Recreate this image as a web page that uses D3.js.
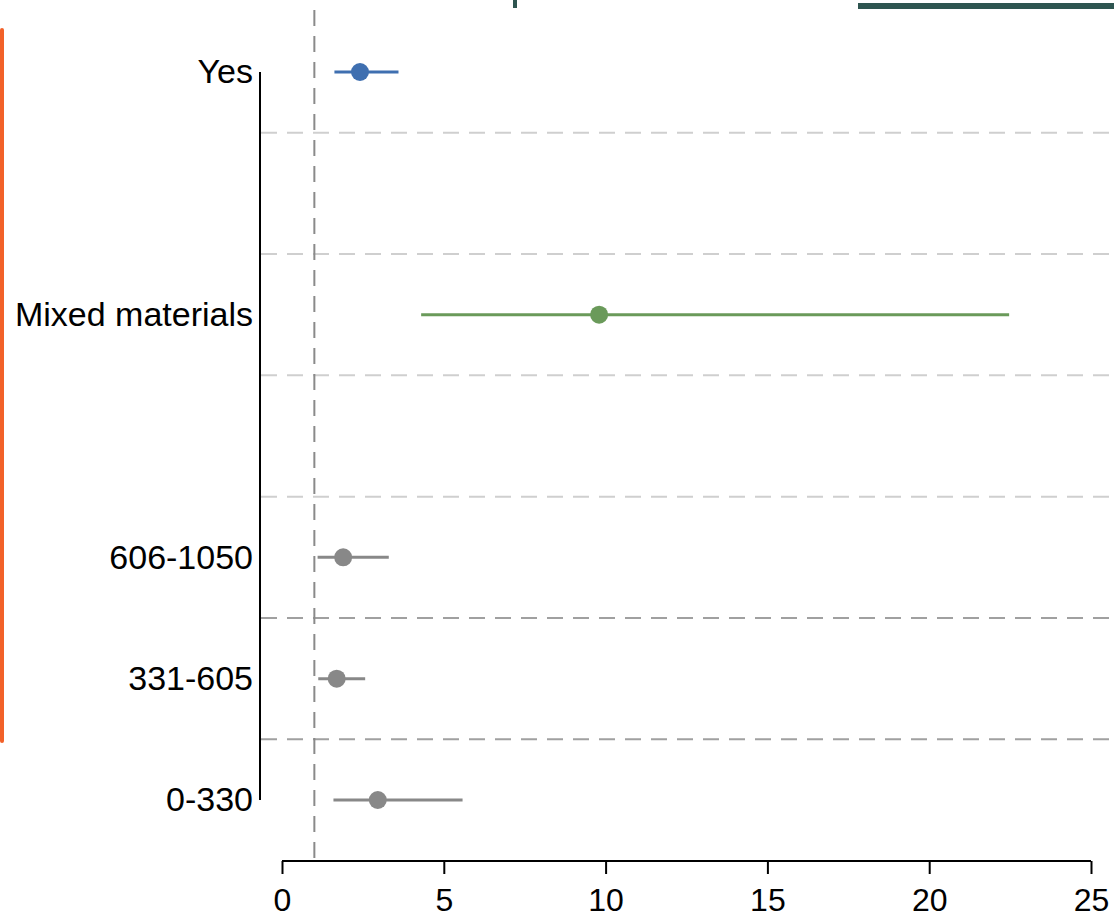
<!DOCTYPE html>
<html><head><meta charset="utf-8">
<script src="https://cdn.jsdelivr.net/npm/d3@7"></script>
<style>body{margin:0;background:#fff}svg{display:block}text{font-family:"Liberation Sans",Arial,sans-serif}</style>
</head><body>
<script>
const categories = ["Yes", "", "Mixed materials", "", "606-1050", "331-605", "0-330"];
const estimates  = [2.41, null, 9.80, null, 1.89, 1.69, 2.96];
const lowerCI    = [1.62, null, 4.30, null, 1.10, 1.12, 1.59];
const upperCI    = [3.60, null, 22.47, null, 3.30, 2.57, 5.58];
const groups     = ["blue", null, "green", null, "gray", "gray", "gray"];
const xTicks = [0, 5, 10, 15, 20, 25];
const refValue = 1;

const colors = {blue: "#3f6fb0", green: "#6a9a5a", gray: "#888888"};
const W = 1114, H = 915;
const svg = d3.select("body").append("svg").attr("width", W).attr("height", H);

const x = d3.scaleLinear().domain([0, 25]).range([282, 1091]);
const y = d3.scalePoint().domain(d3.range(categories.length)).range([72, 800]);
const step = y.step();

// top decorations (cropped parts of surrounding figure)
svg.append("rect").attr("x", 513).attr("y", 0).attr("width", 4).attr("height", 8).attr("fill", "#2e5550");
svg.append("rect").attr("x", 858).attr("y", 3).attr("width", 256).attr("height", 6).attr("fill", "#2e5550");
svg.append("rect").attr("x", 0).attr("y", 28).attr("width", 4).attr("height", 715).attr("rx", 2).attr("fill", "#f26129");

// separators
const seps = d3.range(categories.length - 1);
svg.selectAll(".sep").data(seps).join("line")
  .attr("x1", 261).attr("x2", W)
  .attr("y1", d => y(d) + step / 2).attr("y2", d => y(d) + step / 2)
  .attr("stroke", d => d >= 4 ? "#a0a0a0" : "#cfcfcf")
  .attr("stroke-width", 2).attr("stroke-dasharray", "16,10");

// reference line
svg.append("line").attr("x1", x(refValue)).attr("x2", x(refValue)).attr("y1", 10).attr("y2", 860)
  .attr("stroke", "#8a8a8a").attr("stroke-width", 2).attr("stroke-dasharray", "16,10");

// y axis
const yAxis = svg.append("g").attr("transform", "translate(260,0)")
  .call(d3.axisLeft(y).tickSize(0).tickPadding(7).tickFormat(i => categories[i]));
yAxis.attr("font-size", 34);
yAxis.select(".domain").attr("stroke", "#000").attr("stroke-width", 2).attr("d", `M0,${y(0)}V${y(categories.length-1)}`);
yAxis.selectAll("text").attr("font-size", 34).attr("fill", "#000");

// x axis
const xAxis = svg.append("g").attr("transform", "translate(0,861)")
  .call(d3.axisBottom(x).tickValues(xTicks).tickSize(13).tickPadding(14));
xAxis.attr("font-size", 32);
xAxis.select(".domain").attr("stroke", "#000").attr("stroke-width", 2).attr("d", `M${x(0)},0H${x(25)}`);
xAxis.selectAll(".tick line").attr("stroke", "#000").attr("stroke-width", 2);
xAxis.selectAll("text").attr("font-size", 32).attr("fill", "#000");

const rows = d3.range(categories.length).filter(i => estimates[i] != null);
svg.selectAll(".ci").data(rows).join("line")
  .attr("x1", i => x(lowerCI[i])).attr("x2", i => x(upperCI[i]))
  .attr("y1", i => y(i)).attr("y2", i => y(i))
  .attr("stroke", i => colors[groups[i]]).attr("stroke-width", 3);
svg.selectAll(".pt").data(rows).join("circle")
  .attr("cx", i => x(estimates[i])).attr("cy", i => y(i)).attr("r", 9)
  .attr("fill", i => colors[groups[i]]);
</script>
</body></html>
